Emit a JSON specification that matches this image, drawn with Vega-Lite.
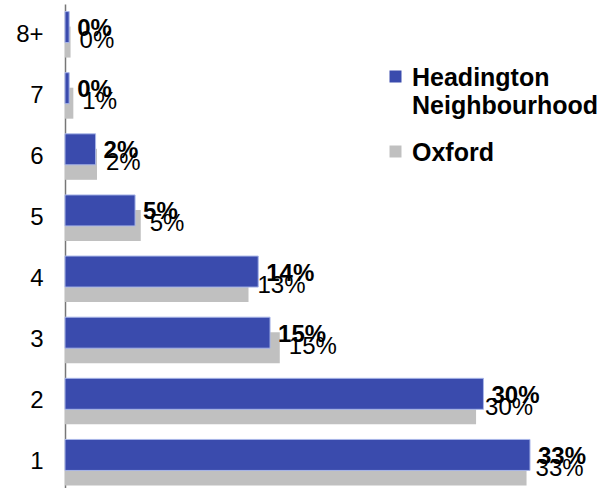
{
  "$schema": "https://vega.github.io/schema/vega-lite/v6.json",
  "autosize": "none",
  "width": 543,
  "height": 489,
  "padding": {"left": 65, "top": 4, "right": 0, "bottom": 0},
  "background": "white",
  "config": {
    "view": {"stroke": null},
    "font": "Liberation Sans",
    "axisY": {
      "domainColor": "#777777",
      "domainWidth": 1.5,
      "ticks": false,
      "grid": false,
      "labelFont": "Liberation Sans",
      "labelFontSize": 24,
      "labelColor": "#000000",
      "labelPadding": 22,
      "title": null
    }
  },
  "data": {
    "values": [
      {"cat": "1", "series": "Headington Neighbourhood", "value": 0.3345},
      {"cat": "2", "series": "Headington Neighbourhood", "value": 0.301},
      {"cat": "3", "series": "Headington Neighbourhood", "value": 0.1475},
      {"cat": "4", "series": "Headington Neighbourhood", "value": 0.139},
      {"cat": "5", "series": "Headington Neighbourhood", "value": 0.0504},
      {"cat": "6", "series": "Headington Neighbourhood", "value": 0.022},
      {"cat": "7", "series": "Headington Neighbourhood", "value": 0.003},
      {"cat": "8+", "series": "Headington Neighbourhood", "value": 0.003},
      {"cat": "1", "series": "Oxford", "value": 0.332},
      {"cat": "2", "series": "Oxford", "value": 0.2957},
      {"cat": "3", "series": "Oxford", "value": 0.1545},
      {"cat": "4", "series": "Oxford", "value": 0.132},
      {"cat": "5", "series": "Oxford", "value": 0.0545},
      {"cat": "6", "series": "Oxford", "value": 0.023},
      {"cat": "7", "series": "Oxford", "value": 0.006},
      {"cat": "8+", "series": "Oxford", "value": 0.004}
    ]
  },
  "encoding": {
    "y": {
      "field": "cat",
      "type": "nominal",
      "sort": ["8+", "7", "6", "5", "4", "3", "2", "1"],
      "scale": {"paddingInner": 0, "paddingOuter": 0},
      "axis": {"title": null}
    },
    "x": {
      "field": "value",
      "type": "quantitative",
      "scale": {"domain": [0, 0.3906], "nice": false, "zero": true},
      "axis": null
    }
  },
  "layer": [
    {
      "transform": [{"filter": "datum.series == 'Oxford'"}],
      "mark": {"type": "bar", "size": 31, "yOffset": 7.5},
      "encoding": {
        "color": {
          "field": "series",
          "type": "nominal",
          "scale": {
            "domain": ["Headington Neighbourhood", "Oxford"],
            "range": ["#3A4BAD", "#C0C0C0"]
          },
          "legend": {
            "title": null,
            "orient": "none",
            "legendX": 318,
            "legendY": 60,
            "symbolType": "square",
            "symbolSize": 144,
            "symbolStrokeWidth": 0,
            "labelFont": "Liberation Sans",
            "labelFontSize": 25,
            "labelFontWeight": "bold",
            "labelColor": "#000000",
            "labelLimit": 0,
            "labelOffset": 4,
            "labelBaseline": "top",
            "rowPadding": 20,
            "padding": 0,
            "labelExpr": "datum.label == 'Headington Neighbourhood' ? ['Headington', 'Neighbourhood'] : datum.label",
            "encode": {
              "labels": {"update": {"dy": {"value": -11}, "lineHeight": {"value": 28}}}
            }
          }
        }
      }
    },
    {
      "transform": [{"filter": "datum.series == 'Headington Neighbourhood'"}],
      "mark": {"type": "bar", "size": 31, "yOffset": -7.5, "stroke": "#A9B6E8", "strokeWidth": 1},
      "encoding": {
        "color": {"field": "series", "type": "nominal"}
      }
    },
    {
      "transform": [{"filter": "datum.series == 'Oxford'"}],
      "mark": {"type": "text", "align": "left", "baseline": "middle", "dx": 9, "yOffset": 6.5, "fontSize": 24, "font": "Liberation Sans", "color": "#000000"},
      "encoding": {
        "text": {"field": "value", "type": "quantitative", "format": ".0%"}
      }
    },
    {
      "transform": [{"filter": "datum.series == 'Headington Neighbourhood'"}],
      "mark": {"type": "text", "align": "left", "baseline": "middle", "dx": 8, "yOffset": -5.5, "fontSize": 24, "fontWeight": "bold", "font": "Liberation Sans", "color": "#000000"},
      "encoding": {
        "text": {"field": "value", "type": "quantitative", "format": ".0%"}
      }
    }
  ]
}
